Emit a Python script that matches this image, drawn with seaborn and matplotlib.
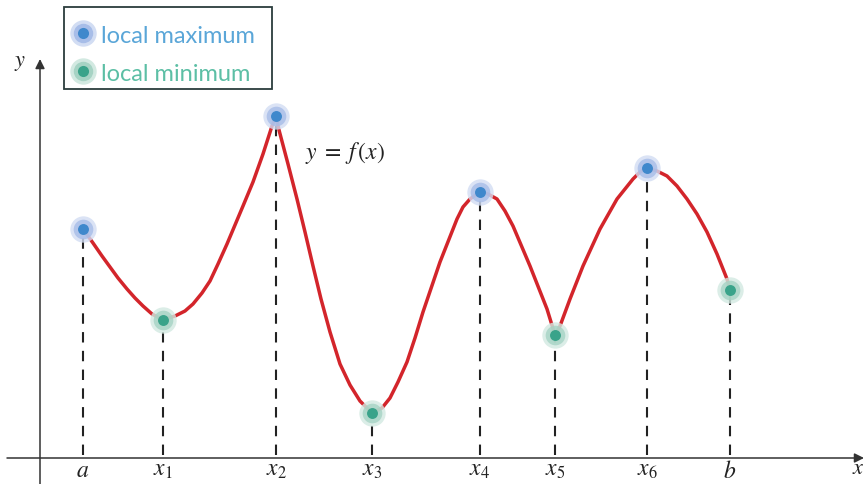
import numpy as np
import pandas as pd
import matplotlib.pyplot as plt
import seaborn as sns
from matplotlib.lines import Line2D
from matplotlib.patches import Rectangle
from matplotlib.legend_handler import HandlerTuple

# curve samples (units: arbitrary, origin at axes crossing)
curve_x = [43, 53, 62, 70, 78, 87, 95, 103, 112, 123, 135, 145, 153, 162,
           170, 178, 187, 195, 203, 213, 223, 232, 236,
           239, 248, 257, 265, 273, 281, 290, 300, 310, 320, 332, 342, 350, 358, 367,
           375, 383, 400, 417, 423, 430, 440, 448, 457, 465, 473, 490, 507, 515,
           520, 530, 543, 560, 577, 593, 600, 607,
           617, 627, 637, 647, 657, 667, 677, 687, 690]
curve_y = [229, 215, 202, 191, 180, 169, 160, 152, 144, 138, 142, 147, 154, 165,
           177, 194, 214, 233, 252, 276, 304, 332, 342,
           328, 294, 259, 226, 192, 159, 126, 94, 73, 57, 45, 50, 60, 76, 96,
           120, 146, 196, 239, 251, 259, 266, 264, 259, 247, 232, 192, 149, 123,
           132, 159, 192, 229, 259, 279, 286, 290,
           287, 282, 272, 259, 244, 226, 204, 179, 168]

# extreme points
pt_x = [43, 123, 236, 332, 440, 515, 607, 690]
pt_y = [229, 138, 342, 45, 266, 123, 290, 168]
pt_kind = ['max', 'min', 'max', 'min', 'max', 'min', 'max', 'min']
pt_labels = ['$a$', '$x_1$', '$x_2$', '$x_3$', '$x_4$', '$x_5$', '$x_6$', '$b$']

sns.set_theme(style='white')
plt.rcParams['mathtext.fontset'] = 'stix'
plt.rcParams['font.family'] = ['Lato', 'DejaVu Sans']

blue = ['#3f88cc', '#a7bde8', '#d2ddf3']
green = ['#3aa38a', '#a6d3c4', '#d2e9e1']
red = '#d3252b'
ink = '#222222'

fig = plt.figure(figsize=(8.68, 4.85), dpi=100)
ax = fig.add_axes([0, 0, 1, 1])
ax.set_xlim(-40, 828)
ax.set_ylim(-26, 459)
ax.axis('off')

# axes with arrows
ax.annotate('', xy=(824, 0), xytext=(-33, 0),
            arrowprops=dict(arrowstyle='-|>', color='#333333', lw=1.1,
                            mutation_scale=14, shrinkA=0, shrinkB=0))
ax.annotate('', xy=(0, 399), xytext=(0, -26),
            arrowprops=dict(arrowstyle='-|>', color='#333333', lw=1.1,
                            mutation_scale=14, shrinkA=0, shrinkB=0))
ax.text(-20, 396, '$y$', fontsize=16, color=ink, ha='center', va='center')
ax.text(818, -9, '$x$', fontsize=16, color=ink, ha='center', va='center')

# dashed drop lines
ax.vlines(pt_x, 3, pt_y, colors=ink, linestyles=(0, (5, 4)), lw=1.5, zorder=1)

# the curve
df = pd.DataFrame({'x': curve_x, 'y': curve_y})
sns.lineplot(data=df, x='x', y='y', sort=False, color=red, lw=2.5, ax=ax, zorder=2,
             solid_joinstyle='round', solid_capstyle='round')

# markers
pts = pd.DataFrame({'x': pt_x, 'y': pt_y, 'kind': pt_kind})
for kind, cols in [('max', blue), ('min', green)]:
    sub = pts[pts['kind'] == kind]
    ax.scatter(sub['x'], sub['y'], s=360, color=cols[2], alpha=0.8, lw=0, zorder=3)
    ax.scatter(sub['x'], sub['y'], s=200, color=cols[1], alpha=0.8, lw=0, zorder=4)
    sns.scatterplot(data=sub, x='x', y='y', s=62, color=cols[0], linewidth=0,
                    ax=ax, zorder=5, legend=False)

# tick labels
for x, lab in zip(pt_x, pt_labels):
    ax.text(x, -12, lab, fontsize=17, color=ink, ha='center', va='center')

ax.text(265, 306, '$y\\;=\\;f\\,(x)$', fontsize=17, color=ink, ha='left', va='center')

# legend (frame drawn separately)
fig.patches.append(Rectangle((64 / 868, 1 - 90 / 485), 208 / 868, 82 / 485,
                             transform=fig.transFigure, facecolor='white',
                             edgecolor='#2b3d3d', lw=1.3, zorder=6))

def marker_set(cols):
    return (Line2D([], [], ls='', marker='o', ms=19, mew=0, color=cols[2]),
            Line2D([], [], ls='', marker='o', ms=14, mew=0, color=cols[1]),
            Line2D([], [], ls='', marker='o', ms=8, mew=0, color=cols[0]))

leg = ax.legend([marker_set(blue), marker_set(green)],
                ['local maximum', 'local minimum'],
                handler_map={tuple: HandlerTuple(ndivide=1, pad=0)},
                loc='upper left', bbox_to_anchor=(64 / 868, 1 - 17 / 485),
                bbox_transform=fig.transFigure, fontsize=17,
                labelcolor=['#5aa6d8', '#5cbfa5'], frameon=False,
                handlelength=0.9, handletextpad=0.3, borderpad=0.37,
                labelspacing=0.72, borderaxespad=0)
leg.remove()
fig.legends.append(leg)
leg.set_zorder(7)

fig.savefig('out.png', dpi=100)
